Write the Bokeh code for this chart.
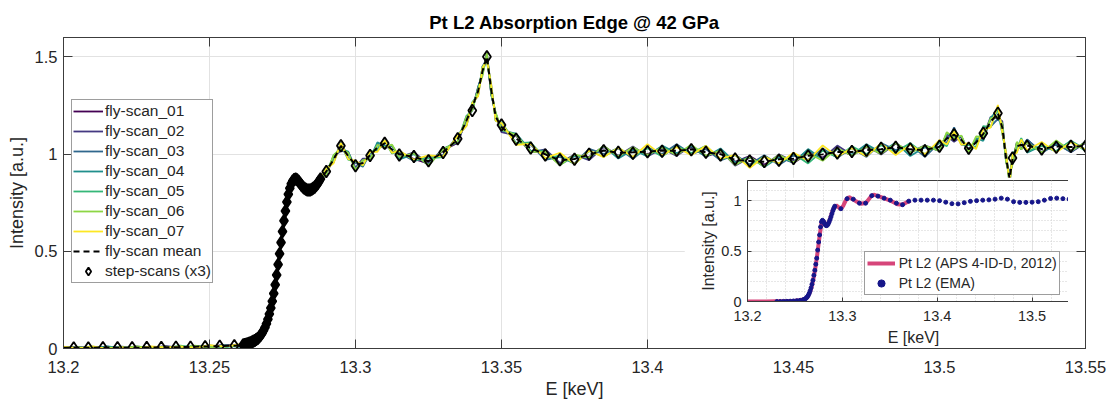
import sys
import numpy as np
from bokeh.plotting import figure
from bokeh.models import Range1d, FixedTicker, LinearAxis, Legend, LegendItem
from bokeh.layouts import column
from bokeh.embed import file_html
from bokeh.resources import INLINE
from bokeh.palettes import Viridis7

# ---------------------------------------------------------------- text
title_text = "Pt L2 Absorption Edge @ 42 GPa"
x_label = "E [keV]"
y_label = "Intensity [a.u.]"
fly_names = ["fly-scan_01", "fly-scan_02", "fly-scan_03", "fly-scan_04",
             "fly-scan_05", "fly-scan_06", "fly-scan_07"]
mean_name = "fly-scan mean"
step_name = "step-scans (x3)"
ref_name = "Pt L2 (APS 4-ID-D, 2012)"
ema_name = "Pt L2 (EMA)"

# ---------------------------------------------------------------- ticks
x_ticks = [13.2, 13.25, 13.3, 13.35, 13.4, 13.45, 13.5, 13.55]
x_tick_labels = ["13.2", "13.25", "13.3", "13.35", "13.4", "13.45", "13.5", "13.55"]
y_ticks = [0, 0.5, 1, 1.5]
y_tick_labels = ["0", "0.5", "1", "1.5"]
in_x_ticks = [13.2, 13.3, 13.4, 13.5]
in_x_tick_labels = ["13.2", "13.3", "13.4", "13.5"]
in_x_minor = [13.22, 13.24, 13.26, 13.28, 13.32, 13.34, 13.36, 13.38,
              13.42, 13.44, 13.46, 13.48, 13.52, 13.54]
in_y_ticks = [0, 0.5, 1]
in_y_tick_labels = ["0", "0.5", "1"]
in_y_minor = [0.1, 0.2, 0.3, 0.4, 0.6, 0.7, 0.8, 0.9, 1.1]

# ---------------------------------------------------------------- fly-scans (energy grid, read mean, per-scan deviations)
E_fly = [
    13.200, 13.205, 13.210, 13.215, 13.220, 13.225, 13.230, 13.235, 13.240, 13.245, 13.250, 13.255, 13.260,
    13.262, 13.264, 13.266, 13.268, 13.270, 13.272, 13.274, 13.276, 13.278, 13.280, 13.282, 13.284, 13.286, 13.288,
    13.290, 13.2925, 13.295, 13.2975, 13.300, 13.3025, 13.305, 13.3075, 13.310, 13.3125, 13.315, 13.320,
    13.325, 13.330, 13.335, 13.338, 13.340, 13.342, 13.3435, 13.345, 13.3465, 13.348, 13.350, 13.355,
    13.360, 13.365, 13.370, 13.375, 13.380, 13.385, 13.390, 13.395, 13.400, 13.405, 13.410, 13.415,
    13.420, 13.425, 13.430, 13.435, 13.440, 13.445, 13.450, 13.455, 13.460, 13.465, 13.470, 13.475,
    13.480, 13.485, 13.490, 13.495, 13.500, 13.5025, 13.505, 13.5075, 13.510, 13.5125, 13.515, 13.5175,
    13.520, 13.5215, 13.5228, 13.524, 13.525, 13.5265, 13.528, 13.530, 13.535, 13.540, 13.545, 13.550,
]
I_fly_base = [
    0.004, 0.003, 0.004, 0.004, 0.004, 0.005, 0.005, 0.006, 0.007, 0.008, 0.010, 0.013, 0.016,
    0.020, 0.030, 0.046, 0.078, 0.150, 0.283, 0.488, 0.708, 0.848, 0.868, 0.831, 0.815, 0.830, 0.872,
    0.910, 0.975, 1.040, 0.990, 0.940, 0.955, 0.993, 1.035, 1.055, 1.025, 0.996, 0.986,
    0.966, 1.008, 1.079, 1.170, 1.245, 1.320, 1.430, 1.500, 1.330, 1.190, 1.140, 1.077,
    1.031, 0.996, 0.971, 0.974, 1.000, 1.017, 1.010, 1.005, 1.012, 1.015, 1.020, 1.022,
    1.010, 0.995, 0.975, 0.965, 0.962, 0.968, 0.978, 0.990, 1.000, 1.006, 1.013, 1.020,
    1.030, 1.035, 1.026, 1.017, 1.040, 1.075, 1.100, 1.070, 1.030, 1.060, 1.108, 1.160,
    1.210, 1.130, 0.980, 0.870, 0.980, 1.040, 1.050, 1.040, 1.026, 1.036, 1.040, 1.040,
]
JIT_UNIT = 0.0018   # deviations below are in this unit
jit_01 = [
    1, 2, -2, 3, -1, -2, 2, 1, -3, 2, -1, 3, -2,
    -1, 0, 1, -1, 1, 0, 1, -2, 1, 1, -1, 0, 1, -1,
    6, -9, 8, -7, 10, -5, 7, -9, 6, -8, 9, -6,
    -8, 6, -11, 9, -7, 10, -8, 6, -12, 9, -6, 11,
    -9, 7, -12, 10, -8, 13, -11, 9, -7, 12, -10, 8,
    -12, 10, -8, 14, -9, 11, -13, 8, -10, 12, -11, 9,
    -13, 11, -9, 12, -10, 15, -8, 10, -12, 9, -14, 11,
    -10, 12, -9, 14, -11, 8, -13, 10, -9, 11, -12, 10,
]
jit_02 = [
    -2, 3, -1, 2, -4, 3, -2, 4, -3, 1, -2, 3, -1,
    -1, 2, -2, 1, 0, -1, 2, -1, 1, -2, 2, 0, -1, 1,
    -10, 7, -13, 11, -6, 12, -9, 8, -14, 10, -7, 13,
    -9, 11, -12, 7, -10, 14, -8, 12, -11, 9, -15, 10,
    -12, 16, -9, 13, -17, 11, -10, 19, -13, 8, -16, 12,
    -11, 14, -19, 10, -13, 17, -8, 15, -12, 21, -10, 13,
    -18, 11, -9, 16, -14, 10, -20, 12, -15, 9, -11, 17,
    -13, 22, -10, 14, -16, 11, -12, 19, -9, 13, -17, 10,
]
jit_03 = [
    1, -3, 2, -1, 3, -2, 1, -4, 2, -1, 3, -3, 2,
    1, 0, -1, 2, -1, 1, -2, 0, 1, -1, 2, -2, 1, 0,
    5, -8, 12, -6, 9, -11, 7, -5, 10, -8, 6, -12,
    11, -7, 9, -13, 8, -10, 12, -6, 14, -9, 7, -11,
    10, -14, 8, -12, 15, -9, 11, -16, 13, -8, 17, -12,
    9, -15, 12, -10, 18, -13, 8, -11, 16, -14, 10, -19,
    15, -8, 13, -17, 11, -9, 21, -12, 10, -15, 14, -10,
    -16, 12, -9, 18, -13, 10, -14, 20, -11, 9, -16, 13,
]
jit_04 = [
    -3, 1, -2, 4, -1, 2, -3, 1, -2, 3, -1, 2, -4,
    -1, 1, 0, -2, 1, -1, 1, 2, -1, 0, -1, 1, 2, -1,
    -6, 10, -8, 13, -11, 7, -9, 14, -7, 11, -13, 8,
    -12, 10, -8, 15, -11, 13, -9, 7, -14, 12, -10, 16,
    -8, 12, -15, 9, -11, 14, -18, 10, -13, 16, -9, 11,
    -14, 19, -10, 12, -16, 9, -12, 20, -15, 11, -9, 17,
    -12, 14, -20, 10, -11, 18, -9, 13, -16, 12, -22, 15,
    10, -13, 17, -11, 9, -15, 13, -18, 10, -12, 16, -9,
]
jit_05 = [
    2, -1, 3, -2, 1, -3, 2, -2, 4, -1, 2, -4, 1,
    0, 1, -1, 1, -2, 2, -1, 1, 0, -1, 1, -1, 0, 2,
    9, -7, 6, -10, 12, -8, 10, -6, 8, -12, 11, -9,
    7, -13, 10, -9, 12, -7, 11, -14, 8, -10, 13, -12,
    16, -10, 12, -14, 9, -17, 13, -11, 10, -15, 12, -9,
    18, -12, 11, -16, 14, -9, 13, -21, 10, -12, 15, -11,
    9, -14, 17, -10, 12, -19, 15, -11, 9, -13, 20, -12,
    14, -10, 11, -17, 13, -9, 18, -14, 10, -11, 15, -13,
]
jit_06 = [
    -1, 2, -3, 1, -2, 3, -1, 2, -2, 4, -3, 1, -2,
    1, -1, 2, -1, 0, 1, -1, -1, 2, 1, -2, 1, -1, 0,
    -8, 11, -5, 9, -12, 8, -10, 7, -11, 13, -6, 10,
    -13, 9, -7, 12, -10, 8, -15, 11, -9, 13, -7, 12,
    -11, 9, -16, 13, -10, 14, -12, 17, -9, 11, -14, 15,
    -10, 13, -17, 11, -14, 16, -11, 9, -19, 14, -12, 10,
    -16, 12, -10, 15, -13, 21, -9, 14, -12, 17, -11, 13,
    -9, 15, -12, 10, -18, 13, -14, 11, -10, 19, -13, 12,
]
jit_07 = [
    3, -2, 4, -3, 2, -4, 3, -1, 2, -3, 4, -2, 3,
    2, -1, 1, -2, 2, -1, 0, 1, -2, 1, -1, 2, -1, 1,
    8, -12, 10, -9, 14, -7, 11, -13, 9, -10, 12, -8,
    15, -11, 9, -14, 10, -12, 8, -9, 13, -10, 11, -16,
    12, -9, 20, -14, 10, -18, 13, -11, 22, -12, 9, -15,
    18, -10, 12, -20, 14, -9, 16, -13, 25, -11, 10, -17,
    14, -22, 12, -10, 18, -14, 9, -12, 15, -19, 11, -13,
    24, -10, 16, -12, 9, -18, 14, -11, 20, -15, 12, -9,
]

# ---------------------------------------------------------------- step-scans
step_E_pre = [13.2035, 13.2085, 13.2135, 13.2185, 13.2235, 13.2285,
              13.2335, 13.2385, 13.2435, 13.2485, 13.2535, 13.2585]
step_I_pre = [0.003, 0.003, 0.004, 0.004, 0.004, 0.005,
              0.005, 0.006, 0.007, 0.009, 0.011, 0.014]
step_E_edge = [
    13.2615, 13.2620, 13.2625, 13.2630, 13.2635, 13.2640, 13.2645, 13.2650, 13.2655, 13.2660,
    13.2665, 13.2670, 13.2675, 13.2680, 13.2685, 13.2690, 13.2695, 13.2700, 13.2705, 13.2710,
    13.2715, 13.2720, 13.2725, 13.2730, 13.2735, 13.2740, 13.2745, 13.2750, 13.2755, 13.2760,
    13.2765, 13.2770, 13.2775, 13.2780, 13.2785, 13.2790, 13.2795, 13.2800, 13.2805, 13.2810,
    13.2815, 13.2820, 13.2825, 13.2830, 13.2835, 13.2840, 13.2845, 13.2850, 13.2855, 13.2860,
    13.2865, 13.2870, 13.2875, 13.2880,
]
step_I_edge = [
    0.018, 0.020, 0.022, 0.024, 0.027, 0.030, 0.033, 0.037, 0.041, 0.046,
    0.052, 0.059, 0.068, 0.078, 0.092, 0.108, 0.127, 0.150, 0.177, 0.208,
    0.243, 0.283, 0.328, 0.378, 0.432, 0.488, 0.545, 0.602, 0.657, 0.708,
    0.754, 0.794, 0.825, 0.848, 0.862, 0.870, 0.872, 0.868, 0.860, 0.850,
    0.840, 0.831, 0.824, 0.819, 0.816, 0.815, 0.816, 0.819, 0.824, 0.830,
    0.838, 0.848, 0.860, 0.872,
]
step_E_post = [
    13.290, 13.295, 13.300, 13.305, 13.310, 13.315, 13.320, 13.325, 13.330, 13.335,
    13.340, 13.345, 13.350, 13.355, 13.360, 13.365, 13.370, 13.375, 13.380, 13.385,
    13.390, 13.395, 13.400, 13.405, 13.410, 13.415, 13.420, 13.425, 13.430, 13.435,
    13.440, 13.445, 13.450, 13.455, 13.460, 13.465, 13.470, 13.475, 13.480, 13.485,
    13.490, 13.495, 13.500, 13.505, 13.510, 13.515, 13.520, 13.525, 13.530, 13.535,
    13.540, 13.545, 13.550,
]
step_I_post = [
    0.910, 1.043, 0.940, 0.993, 1.056, 0.996, 0.988, 0.966, 1.008, 1.079,
    1.224, 1.501, 1.150, 1.077, 1.031, 0.996, 0.971, 0.974, 1.000, 1.017,
    1.010, 1.005, 1.012, 1.015, 1.020, 1.022, 1.010, 0.995, 0.975, 0.965,
    0.962, 0.968, 0.978, 0.990, 1.000, 1.006, 1.013, 1.020, 1.030, 1.035,
    1.026, 1.017, 1.040, 1.100, 1.030, 1.108, 1.210, 0.980, 1.040, 1.026,
    1.036, 1.040, 1.040,
]

# ---------------------------------------------------------------- inset: reference spectrum (APS 2012)
ref_E = [13.200, 13.210, 13.220, 13.230, 13.240, 13.250, 13.255, 13.260, 13.263, 13.266,
         13.268, 13.270, 13.272, 13.274, 13.276, 13.278, 13.280, 13.282, 13.284, 13.286,
         13.288, 13.290, 13.2935, 13.296, 13.298, 13.301, 13.304, 13.307, 13.310, 13.315,
         13.320, 13.325, 13.330, 13.333, 13.338, 13.345, 13.352, 13.358, 13.363, 13.368, 13.372]
ref_I = [0.000, 0.000, 0.000, 0.002, 0.004, 0.008, 0.012, 0.022, 0.040, 0.095,
         0.160, 0.250, 0.360, 0.500, 0.650, 0.780, 0.800, 0.770, 0.760, 0.790,
         0.850, 0.910, 0.955, 0.935, 0.915, 0.950, 1.010, 1.035, 1.020, 0.990,
         0.970, 0.980, 1.040, 1.060, 1.045, 1.020, 0.995, 0.965, 0.960, 0.985, 1.000]

# ---------------------------------------------------------------- inset: EMA spectrum
ema_E = [
    13.231, 13.2345, 13.238, 13.2415, 13.245, 13.2485, 13.252, 13.2555, 13.259,
    13.261, 13.262, 13.263, 13.264, 13.265, 13.266, 13.267, 13.268, 13.269, 13.270,
    13.271, 13.272, 13.273, 13.274, 13.275, 13.276, 13.277, 13.278, 13.279, 13.280,
    13.281, 13.282, 13.283, 13.284, 13.285, 13.286, 13.287, 13.288, 13.289, 13.290,
    13.291, 13.292,
    13.2985, 13.305, 13.3115, 13.318, 13.3245, 13.331, 13.3375, 13.344, 13.3505, 13.357,
    13.3635, 13.370, 13.3765, 13.383, 13.3895, 13.396, 13.4025, 13.409, 13.4155, 13.422,
    13.4285, 13.435, 13.4415, 13.448, 13.4545, 13.461, 13.4675, 13.474, 13.4805, 13.487,
    13.4935, 13.500, 13.5065, 13.513, 13.5195, 13.526, 13.5325, 13.539, 13.5455,
]
ema_I = [
    0.000, 0.000, 0.001, 0.002, 0.003, 0.005, 0.008, 0.012, 0.019,
    0.027, 0.035, 0.046, 0.060, 0.080, 0.105, 0.135, 0.170, 0.210, 0.260,
    0.310, 0.370, 0.430, 0.510, 0.590, 0.660, 0.740, 0.790, 0.805, 0.795,
    0.775, 0.760, 0.752, 0.755, 0.768, 0.788, 0.812, 0.840, 0.870, 0.900,
    0.925, 0.945,
    0.920, 1.020, 1.015, 0.975, 0.975, 1.050, 1.045, 1.025, 1.005, 0.975,
    0.960, 0.995, 1.005, 1.005, 1.005, 1.005, 1.000, 0.985, 0.970, 0.968,
    0.980, 0.993, 1.000, 1.005, 1.008, 1.015, 1.025, 1.015, 0.990, 0.983,
    0.983, 0.985, 0.990, 1.005, 1.022, 1.025, 1.020, 1.015, 1.000,
]

# ---------------------------------------------------------------- style
FONT = "Liberation Sans"
TXT = "#262626"
AXC = "#3c3c3c"
GRID = "#e2e2e2"
REF_COLOR = "#d6457a"
EMA_COLOR = "#16168a"


def fit(lst, n, name):
    if len(lst) != n:
        print(f"warning: {name} has {len(lst)} values, expected {n}", file=sys.stderr)
    return (list(lst) + [lst[-1]] * n)[:n]


N = len(E_fly)
base = np.array(fit(I_fly_base, N, "I_fly_base"), dtype=float)
jits = [jit_01, jit_02, jit_03, jit_04, jit_05, jit_06, jit_07]
fly = [base + np.array(fit(j, N, f"jit_{k + 1:02d}"), dtype=float) * JIT_UNIT
       for k, j in enumerate(jits)]
fly_mean = np.mean(fly, axis=0)

step_E = step_E_pre + step_E_edge + step_E_post
step_I = step_I_pre + step_I_edge + step_I_post
# dense edge scan points overlap into a solid black band
step_fill_alpha = [0.0] * len(step_E_pre) + [1.0] * len(step_E_edge) + [0.0] * len(step_E_post)


def overrides(ticks, labels):
    d = {}
    for t, l in zip(ticks, labels):
        d[t] = l
        d[str(t)] = l
    return d


def style_axis(ax, ticks, labels, fs, tick_in, standoff, minor=None):
    ax.ticker = FixedTicker(ticks=ticks, minor_ticks=minor or [])
    ax.major_label_overrides = overrides(ticks, labels)
    ax.major_tick_in = tick_in
    ax.major_tick_out = 0
    ax.minor_tick_in = 0
    ax.minor_tick_out = 0
    ax.axis_line_color = AXC
    ax.major_tick_line_color = AXC
    ax.major_label_text_font = FONT
    ax.major_label_text_font_size = fs
    ax.major_label_text_color = TXT
    ax.major_label_standoff = standoff


# ================================================================= main figure
p = figure(width=1108, height=401, x_range=Range1d(13.2, 13.55), y_range=Range1d(0, 1.6),
           output_backend="svg", toolbar_location=None,
           min_border_left=63, min_border_right=23, min_border_top=37, min_border_bottom=52)
p.background_fill_color = "white"
p.border_fill_color = "white"
p.outline_line_color = AXC
p.outline_line_width = 1

p.title.text = title_text
p.title.align = "center"
p.title.text_font = FONT
p.title.text_font_size = "18.5px"
p.title.text_font_style = "bold"
p.title.text_color = "black"
p.title.standoff = 10

style_axis(p.xaxis[0], x_ticks, x_tick_labels, "16.5px", 9, 12)
style_axis(p.yaxis[0], y_ticks, y_tick_labels, "16.5px", 9, 6)
p.xaxis.axis_label = x_label
p.yaxis.axis_label = y_label
for ax in (p.xaxis[0], p.yaxis[0]):
    ax.axis_label_text_font = FONT
    ax.axis_label_text_font_size = "18px"
    ax.axis_label_text_font_style = "normal"
    ax.axis_label_text_color = TXT
p.xaxis.axis_label_standoff = 3
p.yaxis.axis_label_standoff = 5

top_ax = LinearAxis()
style_axis(top_ax, x_ticks, x_tick_labels, "0px", 9, 0)
p.add_layout(top_ax, "above")
right_ax = LinearAxis()
style_axis(right_ax, y_ticks, y_tick_labels, "0px", 9, 0)
p.add_layout(right_ax, "right")

p.xgrid.grid_line_color = GRID
p.ygrid.grid_line_color = GRID

items = []
for k in range(7):
    r = p.line(E_fly, fly[k], line_color=Viridis7[k], line_width=1.8)
    items.append(LegendItem(label=fly_names[k], renderers=[r]))
r_mean = p.line(E_fly, fly_mean, line_color="black", line_width=2, line_dash="6 4")
items.append(LegendItem(label=mean_name, renderers=[r_mean]))
r_step = p.scatter(x=step_E, y=step_I, marker="diamond", size=12, line_color="black",
                   line_width=1.8, fill_color="black", fill_alpha=step_fill_alpha)
items.append(LegendItem(label=step_name, renderers=[r_step]))

leg = Legend(items=items, location=(8, 65))
leg.label_text_font = FONT
leg.label_text_font_size = "15.5px"
leg.label_text_color = TXT
leg.glyph_width = 30
leg.glyph_height = 20
leg.label_height = 20
leg.label_standoff = 2
leg.spacing = 0
leg.padding = 1
leg.margin = 0
leg.border_line_color = AXC
leg.border_line_width = 1
leg.background_fill_color = "white"
leg.background_fill_alpha = 1
p.add_layout(leg)

# ================================================================= inset
inset = figure(frame_width=332, frame_height=121, x_range=Range1d(13.2, 13.55),
               y_range=Range1d(0, 1.2), output_backend="svg", toolbar_location=None,
               min_border_left=48, min_border_right=2, min_border_top=3, min_border_bottom=44)
inset.background_fill_color = "white"
inset.border_fill_color = "white"
inset.outline_line_color = AXC
inset.outline_line_width = 1
inset.margin = (177 - 401, 0, 0, 684)

style_axis(inset.xaxis[0], in_x_ticks, in_x_tick_labels, "14.5px", 4, 9, in_x_minor)
style_axis(inset.yaxis[0], in_y_ticks, in_y_tick_labels, "14.5px", 4, 6, in_y_minor)
inset.xaxis.axis_label = x_label
inset.yaxis.axis_label = y_label
for ax in (inset.xaxis[0], inset.yaxis[0]):
    ax.axis_label_text_font = FONT
    ax.axis_label_text_font_size = "16px"
    ax.axis_label_text_font_style = "normal"
    ax.axis_label_text_color = TXT
inset.xaxis.axis_label_standoff = 5
inset.yaxis.axis_label_standoff = 1

inset.xgrid.grid_line_color = GRID
inset.ygrid.grid_line_color = GRID
inset.xgrid.minor_grid_line_color = "#cfcfcf"
inset.ygrid.minor_grid_line_color = "#cfcfcf"
inset.xgrid.minor_grid_line_dash = "1 2"
inset.ygrid.minor_grid_line_dash = "1 2"

r_ref = inset.line(ref_E, ref_I, line_color=REF_COLOR, line_width=4)
r_ema = inset.scatter(ema_E, ema_I, marker="circle", size=4, line_color=EMA_COLOR,
                      fill_color=EMA_COLOR)
ileg = Legend(items=[LegendItem(label=ref_name, renderers=[r_ref]),
                     LegendItem(label=ema_name, renderers=[r_ema])],
              location=(129, 6))
ileg.label_text_font = FONT
ileg.label_text_font_size = "14px"
ileg.label_text_color = TXT
ileg.glyph_width = 28
ileg.glyph_height = 18
ileg.label_height = 18
ileg.label_standoff = 4
ileg.spacing = 2
ileg.padding = 2
ileg.margin = 0
ileg.border_line_color = AXC
ileg.border_line_width = 1
ileg.background_fill_color = "white"
ileg.background_fill_alpha = 1
inset.add_layout(ileg)

layout = column(p, inset, spacing=0)
open("out.html", "w").write(file_html(layout, INLINE, title=title_text))
